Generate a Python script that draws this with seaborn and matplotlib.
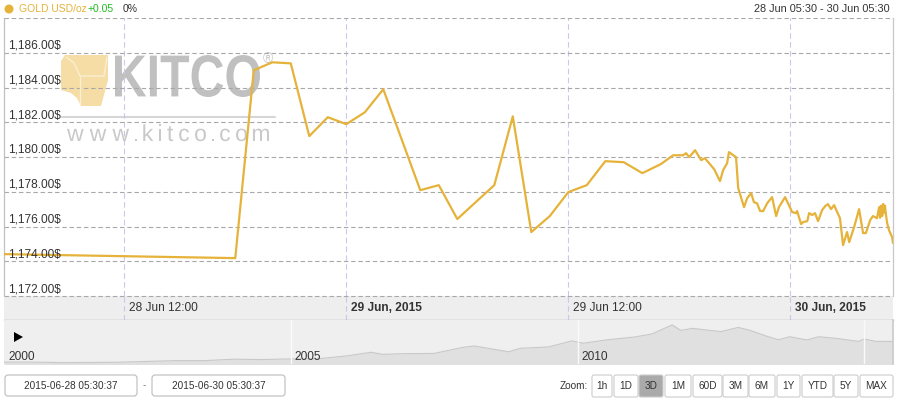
import matplotlib
matplotlib.use("Agg")
import pandas as pd
import matplotlib.pyplot as plt
import matplotlib.dates as mdates
import matplotlib.transforms as mtransforms
from matplotlib.patches import Polygon, FancyBboxPatch, PathPatch, Circle
from matplotlib.textpath import TextPath
from matplotlib.font_manager import FontProperties
import seaborn as sns

W, H = 898, 405
GOLD = "#e6b33a"

# --- data ---
price_times = [
    "2015-06-28 05:30", "2015-06-28 18:00", "2015-06-28 19:00", "2015-06-28 20:00",
    "2015-06-28 21:00", "2015-06-28 22:00", "2015-06-28 23:00", "2015-06-29 00:00",
    "2015-06-29 01:00", "2015-06-29 02:00", "2015-06-29 04:00", "2015-06-29 05:00",
    "2015-06-29 06:00", "2015-06-29 08:00", "2015-06-29 09:00", "2015-06-29 10:00",
    "2015-06-29 11:00", "2015-06-29 12:00", "2015-06-29 13:00", "2015-06-29 14:00",
    "2015-06-29 15:00", "2015-06-29 16:00", "2015-06-29 17:00", "2015-06-29 17:40",
    "2015-06-29 18:12", "2015-06-29 18:22", "2015-06-29 18:32", "2015-06-29 18:51",
    "2015-06-29 19:11", "2015-06-29 19:23", "2015-06-29 19:53", "2015-06-29 20:12",
    "2015-06-29 20:22", "2015-06-29 20:35", "2015-06-29 20:41", "2015-06-29 21:04",
    "2015-06-29 21:11", "2015-06-29 21:30", "2015-06-29 21:40", "2015-06-29 21:53",
    "2015-06-29 22:02", "2015-06-29 22:12", "2015-06-29 22:22", "2015-06-29 22:32",
    "2015-06-29 22:45", "2015-06-29 23:01", "2015-06-29 23:14", "2015-06-29 23:23",
    "2015-06-29 23:43", "2015-06-30 00:00", "2015-06-30 00:06", "2015-06-30 00:19",
    "2015-06-30 00:22", "2015-06-30 00:35", "2015-06-30 00:41", "2015-06-30 00:55",
    "2015-06-30 01:01", "2015-06-30 01:11", "2015-06-30 01:20", "2015-06-30 01:30",
    "2015-06-30 01:43", "2015-06-30 01:53", "2015-06-30 02:02", "2015-06-30 02:12",
    "2015-06-30 02:22", "2015-06-30 02:32", "2015-06-30 02:41", "2015-06-30 02:51",
    "2015-06-30 03:04", "2015-06-30 03:11", "2015-06-30 03:27", "2015-06-30 03:43",
    "2015-06-30 03:56", "2015-06-30 04:05", "2015-06-30 04:19", "2015-06-30 04:28",
    "2015-06-30 04:41", "2015-06-30 04:48", "2015-06-30 04:51", "2015-06-30 04:54",
    "2015-06-30 04:58", "2015-06-30 05:01", "2015-06-30 05:04", "2015-06-30 05:07",
    "2015-06-30 05:10", "2015-06-30 05:14", "2015-06-30 05:20", "2015-06-30 05:30",
    "2015-06-30 05:33",
]
price_values = [
    1174.41, 1174.18, 1184.99, 1185.45,
    1185.39, 1181.20, 1182.29, 1181.89,
    1182.57, 1183.90, 1178.09, 1178.38,
    1176.43, 1178.38, 1182.34, 1175.68,
    1176.60, 1177.98, 1178.38, 1179.76,
    1179.70, 1179.07, 1179.59, 1180.10,
    1180.10, 1180.22, 1179.99, 1180.39,
    1179.82, 1179.93, 1179.30, 1178.61,
    1179.24, 1179.64, 1180.28, 1179.99,
    1178.21, 1177.11, 1177.63, 1177.92,
    1177.40, 1177.34, 1176.89, 1176.89,
    1177.34, 1177.69, 1176.60, 1177.11,
    1177.69, 1177.06, 1176.83, 1176.77,
    1176.89, 1176.14, 1176.25, 1176.31,
    1176.77, 1176.66, 1176.77, 1176.31,
    1176.94, 1177.17, 1177.29, 1177.00,
    1177.23, 1176.83, 1176.48, 1174.93,
    1175.68, 1175.10, 1175.97, 1177.00,
    1175.62, 1175.62, 1176.37, 1176.60,
    1176.48, 1177.11, 1176.50, 1177.20,
    1176.60, 1177.30, 1176.80, 1177.20,
    1176.70, 1176.20, 1175.79, 1175.39,
    1175.05,
]

y_grid_values = [1172, 1174, 1176, 1178, 1180, 1182, 1184, 1186, 1188]
y_label_values = [1172, 1174, 1176, 1178, 1180, 1182, 1184, 1186]

x_tick_times = ["2015-06-28 12:00", "2015-06-29 00:00", "2015-06-29 12:00", "2015-06-30 00:00"]
x_tick_labels = ["28 Jun 12:00", "29 Jun, 2015", "29 Jun 12:00", "30 Jun, 2015"]
x_tick_bold = [False, True, False, True]

nav_years = [2000.0, 2000.5, 2001.0, 2001.5, 2002.0, 2002.5, 2003.0, 2003.5, 2004.0,
             2004.5, 2005.0, 2005.5, 2006.0, 2006.4, 2006.6, 2007.0, 2007.5, 2008.0,
             2008.2, 2008.8, 2009.0, 2009.5, 2009.9, 2010.1, 2010.5, 2011.0, 2011.3,
             2011.65, 2011.8, 2012.0, 2012.5, 2012.8, 2013.0, 2013.3, 2013.5, 2013.7,
             2014.0, 2014.2, 2014.5, 2014.9, 2015.0, 2015.2, 2015.5]
nav_prices = [288, 285, 265, 270, 280, 315, 350, 350, 410,
              395, 425, 435, 560, 710, 620, 650, 660, 920,
              980, 730, 880, 940, 1200, 1100, 1240, 1370, 1500,
              1890, 1650, 1740, 1600, 1780, 1660, 1400, 1250, 1380,
              1240, 1380, 1310, 1180, 1280, 1180, 1175]
nav_label_years = [2000, 2005, 2010]
nav_divider_years = [2005, 2010, 2015]

zoom_labels = ["1h", "1D", "3D", "1M", "60D", "3M", "6M", "1Y", "YTD", "5Y", "MAX"]
zoom_selected = "3D"

# --- setup ---
sns.set_theme(style="white")
plt.rcParams["font.family"] = ["Liberation Sans", "DejaVu Sans"]

fig = plt.figure(figsize=(W / 100, H / 100), dpi=100)
fig.patch.set_facecolor("white")
# pixel coordinates, origin at the top-left like the picture
px = mtransforms.Affine2D().scale(1 / W, -1 / H).translate(0, 1) + fig.transFigure


def box(x0, y0, x1, y1):
    return [x0 / W, 1 - y1 / H, (x1 - x0) / W, (y1 - y0) / H]


x_left = pd.Timestamp("2015-06-28 05:30")
x_right = pd.Timestamp("2015-06-30 05:33")
tick_nums = mdates.date2num(pd.to_datetime(x_tick_times))

hgrid = dict(color="#a8a8a8", lw=0.8, linestyle=(0, (4, 2.5)))
vgrid = dict(color="#c9c9f0", lw=0.8, linestyle=(0, (5, 3)))

# --- main price axes ---
ax = fig.add_axes(box(4, 18, 893, 296))
ax.set_facecolor("white")

df = pd.DataFrame({"time": pd.to_datetime(price_times), "price": price_values})
sns.lineplot(data=df, x="time", y="price", ax=ax, color=GOLD, lw=1.6,
             estimator=None, sort=False, zorder=3)
ax.lines[-1].set_solid_joinstyle("round")

ax.set_xlim(mdates.date2num(x_left), mdates.date2num(x_right))
ax.set_ylim(1172, 1188)
ax.set_xlabel("")
ax.set_ylabel("")
ax.set_yticks(y_grid_values)
ax.set_xticks(tick_nums)
ax.yaxis.grid(True, **hgrid)
ax.xaxis.grid(True, **vgrid)
ax.set_axisbelow(True)
ax.tick_params(labelleft=False, labelbottom=False, length=0)
for side in ["top", "bottom"]:
    ax.spines[side].set_visible(False)
ax.spines["left"].set_color("#c0c0c0")
ax.spines["left"].set_linewidth(0.9)
ax.spines["right"].set_color("#c8c8c8")
ax.spines["right"].set_linewidth(0.9)

ylab_tr = mtransforms.offset_copy(ax.get_yaxis_transform(), fig=fig, x=4, y=4, units="dots")
for v in y_label_values:
    ax.text(0, v, f"{v:,.2f}$", transform=ylab_tr, ha="left", va="baseline",
            fontsize=8.6, color="#333333", zorder=4)

# --- watermark (kitco logo) ---
cube = Polygon([(61, 61), (65, 55), (108, 55), (108, 80), (101, 106), (81, 106),
                (77, 98), (71, 93), (61, 90)],
               closed=True, transform=px, facecolor="#f5dda5", edgecolor="none",
               zorder=0.5, clip_on=False)
ax.add_patch(cube)
for pts in [[(66, 57), (74, 63), (80, 76)], [(80, 76), (104, 76), (107, 57)], [(80, 76), (80, 105)]]:
    ax.add_patch(Polygon(pts, closed=False, transform=px, fill=False,
                         edgecolor="#faefd2", lw=1.0, zorder=0.6, clip_on=False))

kitco_path = TextPath((0, 0), "KITCO", size=1, prop=FontProperties(family="Liberation Sans", weight="bold"))
ext = kitco_path.get_extents()
sx, sy = 145 / ext.width, 42 / ext.height
kt = mtransforms.Affine2D().translate(-ext.x0, -ext.y0).scale(sx, -sy).translate(115, 97) + px
ax.add_patch(PathPatch(kitco_path, transform=kt, facecolor="#c0c0c0", edgecolor="none",
                       zorder=0.5, clip_on=False))

# letter-spaced www.kitco.com
www_prop = FontProperties(family="Liberation Sans")
www_chars = [TextPath((0, 0), ch, size=23, prop=www_prop) for ch in "www.kitco.com"]
advances = [p.get_extents().width for p in www_chars]
gap = (202 - sum(advances)) / (len(www_chars) - 1)
cx = 67
for p, adv in zip(www_chars, advances):
    e = p.get_extents()
    tr = mtransforms.Affine2D().translate(-e.x0, 0).scale(1, -1).translate(cx, 141) + px
    ax.add_patch(PathPatch(p, transform=tr, facecolor="#c9c9c9", edgecolor="none",
                           zorder=0.5, clip_on=False))
    cx += adv + gap

ax.plot([62, 275], [117, 117], transform=px, color="#d6d6d6", lw=1.5, zorder=0.5, clip_on=False)
ax.text(268, 59, "®", transform=px, ha="center", va="center", fontsize=10,
        color="#c8c8c8", zorder=0.5)

# --- x axis label band ---
ax_band = fig.add_axes(box(4, 296, 893, 320), sharex=ax)
ax_band.set_facecolor("#eeeeee")
ax_band.set_yticks([])
ax_band.set_xticks(tick_nums)
ax_band.xaxis.grid(True, **vgrid)
ax_band.tick_params(labelleft=False, labelbottom=False, length=0)
for side in ["top", "left", "right"]:
    ax_band.spines[side].set_visible(False)
ax_band.spines["bottom"].set_color("#b4b4b4")
ax_band.spines["bottom"].set_linewidth(1.0)
# dashed 1172 line on top of the band
ax_band.axhline(1.0, **hgrid)

xlab_tr = mtransforms.offset_copy(ax_band.get_xaxis_transform(), fig=fig, x=5, y=0, units="dots")
for t, lab, bold in zip(tick_nums, x_tick_labels, x_tick_bold):
    ax_band.text(t, 0.5, lab, transform=xlab_tr, ha="left", va="center", fontsize=8.6,
                 color="#333333", fontweight="bold" if bold else "normal")

# --- navigator ---
ax_nav = fig.add_axes(box(4, 320, 893, 364))
ax_nav.set_facecolor("#efefef")
ax_nav.fill_between(nav_years, nav_prices, 0, color="#e0e0e0", lw=0)
sns.lineplot(x=nav_years, y=nav_prices, ax=ax_nav, color="#c8c8c8", lw=0.8,
             estimator=None, sort=False)
for yr in nav_divider_years:
    ax_nav.axvline(yr, color="#fafafa", lw=1.0)
ax_nav.set_xlim(2000, 2015.5)
ax_nav.set_ylim(204, 2100)
ax_nav.set_xticks([])
ax_nav.set_yticks([])
ax_nav.set_xlabel("")
ax_nav.set_ylabel("")
for side in ["bottom", "left", "top"]:
    ax_nav.spines[side].set_visible(False)
ax_nav.spines["right"].set_color("#cccccc")
navlab_tr = mtransforms.offset_copy(ax_nav.get_xaxis_transform(), fig=fig, x=4, y=4, units="dots")
for yr in nav_label_years:
    ax_nav.text(yr, 0, str(yr), transform=navlab_tr, ha="left", va="baseline",
                fontsize=8.6, color="#333333")
fig.patches.append(Polygon([(14, 332), (14, 342), (23, 337)], closed=True, transform=px,
                           facecolor="black", edgecolor="none"))

# --- header ---
fig.patches.append(Circle((9, 9), 4.5, transform=px, facecolor=GOLD, edgecolor="none"))
fig.text(19, 9.5, "GOLD USD/oz", transform=px, ha="left", va="center", fontsize=7.5, color=GOLD)
fig.text(88, 9.5, "+0.05", transform=px, ha="left", va="center", fontsize=7.5, color="#22bb22")
fig.text(123, 9.5, "0%", transform=px, ha="left", va="center", fontsize=7.5, color="#333333")
fig.text(890, 9.5, "28 Jun 05:30 - 30 Jun 05:30", transform=px, ha="right", va="center",
         fontsize=7.8, color="#333333")

# --- range inputs and zoom buttons ---
for (x0, x1), label in zip([(5, 137), (152, 285)], ["2015-06-28 05:30:37", "2015-06-30 05:30:37"]):
    fig.patches.append(FancyBboxPatch((x0, 375), x1 - x0, 21, boxstyle="round,pad=0,rounding_size=3",
                                      transform=px, facecolor="white", edgecolor="#bcbcbc", lw=0.8))
    fig.text((x0 + x1) / 2, 386, label, transform=px, ha="center", va="center",
             fontsize=7.2, color="#333333")
fig.text(144, 385, "-", transform=px, ha="center", va="center", fontsize=7.2, color="#777777")

fig.text(588, 386, "Zoom:", transform=px, ha="right", va="center", fontsize=7.2, color="#333333")
btn_edges = [(592, 612), (614, 638), (639, 663), (665, 691), (693, 722), (723, 748),
             (749, 775), (777, 800), (802, 833), (834, 858), (860, 893)]
for (x0, x1), label in zip(btn_edges, zoom_labels):
    sel = label == zoom_selected
    fig.patches.append(FancyBboxPatch((x0, 375), x1 - x0, 22, boxstyle="round,pad=0,rounding_size=2",
                                      transform=px, facecolor="#aaaaaa" if sel else "white",
                                      edgecolor="#cccccc", lw=0.8))
    fig.text((x0 + x1) / 2, 386, label, transform=px, ha="center", va="center",
             fontsize=7.2, color="#333333")

fig.savefig("out.png", dpi=100)
